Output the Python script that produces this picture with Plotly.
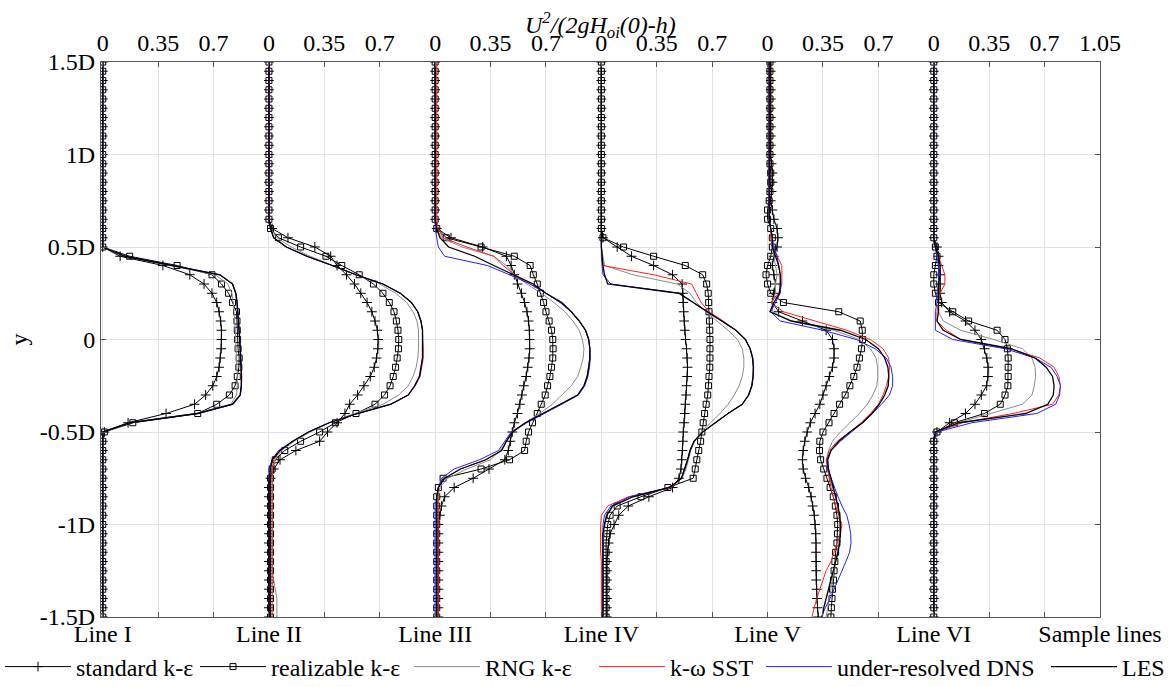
import plotly.graph_objects as go

# ---------------- data ----------------
# sample heights (units of D), shared by every profile
Y = [1.5, 1.45, 1.4, 1.35, 1.3, 1.25, 1.2, 1.15, 1.1, 1.05,
     1.0, 0.95, 0.9, 0.85, 0.8, 0.75, 0.7, 0.65, 0.6, 0.55,
     0.5, 0.45, 0.4, 0.35, 0.3, 0.25, 0.2, 0.15, 0.1, 0.05,
     0.0, -0.05, -0.1, -0.15, -0.2, -0.25, -0.3, -0.35, -0.4, -0.45,
     -0.5, -0.55, -0.6, -0.65, -0.7, -0.75, -0.8, -0.85, -0.9, -0.95,
     -1.0, -1.05, -1.1, -1.15, -1.2, -1.25, -1.3, -1.35, -1.4, -1.45,
     -1.5]

LINES = ["Line I", "Line II", "Line III", "Line IV", "Line V", "Line VI"]
MODELS = ["standard k-ε", "realizable k-ε", "RNG k-ε", "k-ω SST", "under-resolved DNS", "LES"]

# ---- Line I ----
L1_STD = [0, 0, 0, 0, 0, 0, 0, 0, 0, 0,
          0, 0, 0, 0, 0, 0, 0, 0, 0, 0,
          0, 0.11, 0.38, 0.55, 0.64, 0.69, 0.72, 0.735, 0.745, 0.75,
          0.75, 0.748, 0.742, 0.735, 0.72, 0.695, 0.65, 0.58, 0.4, 0.16,
          0.01, 0, 0, 0, 0, 0, 0, 0, 0, 0,
          0, 0, 0, 0, 0, 0, 0, 0, 0, 0,
          0]
L1_REAL = [0, 0, 0, 0, 0, 0, 0, 0, 0, 0,
           0, 0, 0, 0, 0, 0, 0, 0, 0, 0,
           0, 0.17, 0.47, 0.69, 0.75, 0.795, 0.82, 0.845, 0.848, 0.85,
           0.852, 0.855, 0.862, 0.86, 0.85, 0.836, 0.8, 0.72, 0.6, 0.19,
           0.01, 0, 0, 0, 0, 0, 0, 0, 0, 0,
           0, 0, 0, 0, 0, 0, 0, 0, 0, 0,
           0]
L1_RNG = [0, 0, 0, 0, 0, 0, 0, 0, 0, 0,
          0, 0, 0, 0, 0, 0, 0, 0, 0, 0,
          0, 0.14, 0.42, 0.71, 0.79, 0.815, 0.825, 0.83, 0.835, 0.838,
          0.84, 0.843, 0.846, 0.848, 0.85, 0.85, 0.845, 0.81, 0.58, 0.17,
          0, 0, 0, 0, 0, 0, 0, 0, 0, 0,
          0, 0, 0, 0, 0, 0, 0, 0, 0, 0,
          0]
L1_SST = [0, 0, 0, 0, 0, 0, 0, 0, 0, 0,
          0, 0, 0, 0, 0, 0, 0, 0, 0, 0,
          0, 0.14, 0.43, 0.74, 0.82, 0.84, 0.848, 0.853, 0.857, 0.862,
          0.865, 0.868, 0.872, 0.875, 0.876, 0.875, 0.868, 0.82, 0.6, 0.17,
          0, 0, 0, 0, 0, 0, 0, 0, 0, 0,
          0, 0, 0, 0, 0, 0, 0, 0, 0, 0,
          0]
L1_DNS = [0, 0, 0, 0, 0, 0, 0, 0, 0, 0,
          0, 0, 0, 0, 0, 0, 0, 0, 0, 0,
          0, 0.14, 0.43, 0.74, 0.82, 0.842, 0.85, 0.855, 0.86, 0.864,
          0.867, 0.87, 0.874, 0.877, 0.878, 0.877, 0.87, 0.825, 0.6, 0.17,
          0, 0, 0, 0, 0, 0, 0, 0, 0, 0,
          0, 0, 0, 0, 0, 0, 0, 0, 0, 0,
          0]
L1_LES = [0, 0, 0, 0, 0, 0, 0, 0, 0, 0,
          0, 0, 0, 0, 0, 0, 0, 0, 0, 0,
          0, 0.14, 0.43, 0.74, 0.82, 0.84, 0.848, 0.853, 0.857, 0.862,
          0.865, 0.868, 0.872, 0.875, 0.876, 0.875, 0.868, 0.82, 0.6, 0.17,
          0, 0, 0, 0, 0, 0, 0, 0, 0, 0,
          0, 0, 0, 0, 0, 0, 0, 0, 0, 0,
          0]

# ---- Line II ----
L2_STD = [0, 0, 0, 0, 0, 0, 0, 0, 0, 0,
          0, 0, 0, 0, 0, 0, 0, 0, 0.02, 0.12,
          0.29, 0.39, 0.43, 0.49, 0.54, 0.58, 0.62, 0.65, 0.67, 0.685,
          0.69, 0.688, 0.68, 0.665, 0.64, 0.6, 0.56, 0.51, 0.48, 0.43,
          0.37, 0.32, 0.17, 0.07, 0.03, 0.01, 0, 0, 0, 0,
          0, 0, 0, 0, 0, 0, 0, 0, 0, 0,
          0]
L2_REAL = [0, 0, 0, 0, 0, 0, 0, 0, 0, 0,
           0, 0, 0, 0, 0, 0, 0, 0, 0.01, 0.06,
           0.2, 0.36, 0.46, 0.57, 0.66, 0.72, 0.76, 0.79, 0.805, 0.815,
           0.82, 0.818, 0.81, 0.8, 0.785, 0.765, 0.73, 0.67, 0.55, 0.42,
           0.32, 0.2, 0.1, 0.04, 0.02, 0.01, 0.01, 0.01, 0.01, 0.01,
           0.01, 0.01, 0.01, 0.01, 0.01, 0.01, 0.01, 0.01, 0.01, 0.01,
           0.01]
L2_RNG = [0, 0, 0, 0, 0, 0, 0, 0, 0, 0,
          0, 0, 0, 0, 0, 0, 0, 0, 0.01, 0.05,
          0.14, 0.26, 0.4, 0.55, 0.7, 0.8, 0.87, 0.91, 0.935, 0.945,
          0.945, 0.945, 0.94, 0.93, 0.91, 0.88, 0.82, 0.72, 0.54, 0.38,
          0.26, 0.16, 0.08, 0.04, 0.02, 0.02, 0.02, 0.02, 0.02, 0.02,
          0.02, 0.02, 0.02, 0.02, 0.02, 0.02, 0.03, 0.04, 0.05, 0.05,
          0.05]
L2_SST = [0, 0, 0, 0, 0, 0, 0, 0, 0, 0,
          0, 0, 0, 0, 0, 0, 0, 0, 0.01, 0.03,
          0.11, 0.24, 0.4, 0.55, 0.72, 0.83, 0.9, 0.94, 0.96, 0.97,
          0.97, 0.975, 0.975, 0.965, 0.955, 0.925, 0.88, 0.77, 0.56, 0.38,
          0.25, 0.15, 0.07, 0.03, 0.02, 0.02, 0.02, 0.02, 0.02, 0.02,
          0.02, 0.02, 0.02, 0.02, 0.02, 0.02, 0.02, 0.02, 0.02, 0.02,
          0.02]
L2_DNS = [0, 0, 0, 0, 0, 0, 0, 0, 0, 0,
          0, 0, 0, 0, 0, 0, 0, 0, 0.01, 0.03,
          0.11, 0.24, 0.4, 0.55, 0.72, 0.83, 0.9, 0.94, 0.96, 0.97,
          0.972, 0.972, 0.97, 0.962, 0.952, 0.922, 0.88, 0.77, 0.56, 0.38,
          0.25, 0.15, 0.06, 0.02, 0, 0, 0, 0, 0, 0,
          0, 0, 0, 0, 0, 0, 0, 0, 0, 0,
          0]
L2_LES = [0, 0, 0, 0, 0, 0, 0, 0, 0, 0,
          0, 0, 0, 0, 0, 0, 0, 0, 0.01, 0.03,
          0.11, 0.24, 0.4, 0.55, 0.72, 0.83, 0.9, 0.94, 0.96, 0.97,
          0.97, 0.97, 0.97, 0.96, 0.95, 0.92, 0.88, 0.77, 0.56, 0.38,
          0.25, 0.15, 0.07, 0.02, 0.01, 0, 0, 0, 0, 0,
          0, 0, 0, 0, 0, 0, 0, 0, 0, 0,
          0]

# ---- Line III ----
L3_STD = [0, 0, 0, 0, 0, 0, 0, 0, 0, 0,
          0, 0, 0, 0, 0, 0, 0, 0, 0.01, 0.1,
          0.3, 0.45, 0.48, 0.5, 0.52, 0.545, 0.565, 0.58, 0.59, 0.595,
          0.597, 0.597, 0.593, 0.585, 0.575, 0.56, 0.548, 0.535, 0.52, 0.5,
          0.487, 0.475, 0.462, 0.44, 0.34, 0.24, 0.12, 0.06, 0.04, 0.03,
          0.02, 0.02, 0.02, 0.02, 0.02, 0.02, 0.02, 0.02, 0.02, 0.02,
          0.02]
L3_REAL = [0, 0, 0, 0, 0, 0, 0, 0, 0, 0,
           0, 0, 0, 0, 0, 0, 0, 0, 0.01, 0.07,
           0.29, 0.5, 0.6, 0.62, 0.645, 0.665, 0.685, 0.7, 0.72, 0.735,
           0.743, 0.745, 0.743, 0.735, 0.725, 0.71, 0.695, 0.67, 0.645, 0.615,
           0.59, 0.575, 0.565, 0.47, 0.29, 0.05, 0.02, 0.01, 0.01, 0.01,
           0.01, 0.01, 0.01, 0.01, 0.01, 0.01, 0.01, 0.01, 0.01, 0.01,
           0.01]
L3_RNG = [0, 0, 0, 0, 0, 0, 0, 0, 0, 0,
          0, 0, 0, 0, 0, 0, 0, 0, 0.01, 0.04,
          0.17, 0.37, 0.45, 0.5, 0.58, 0.67, 0.75, 0.82, 0.87, 0.91,
          0.93, 0.94, 0.935, 0.92, 0.9, 0.86, 0.8, 0.74, 0.66, 0.57,
          0.49, 0.45, 0.41, 0.35, 0.2, 0.08, 0.03, 0.015, 0.01, 0.01,
          0.01, 0.01, 0.01, 0.01, 0.01, 0.01, 0.01, 0.01, 0.01, 0.01,
          0.01]
L3_SST = [0.01, 0.01, 0.01, 0.01, 0.01, 0.01, 0.01, 0.01, 0.01, 0.01,
          0.01, 0.01, 0.01, 0.01, 0.01, 0.01, 0.01, 0.01, 0.02, 0.05,
          0.2, 0.37, 0.43, 0.5, 0.6, 0.7, 0.79, 0.86, 0.91, 0.95,
          0.97, 0.977, 0.977, 0.97, 0.96, 0.94, 0.9, 0.79, 0.68, 0.57,
          0.48, 0.45, 0.42, 0.32, 0.16, 0.06, 0.02, 0.02, 0.02, 0.02,
          0.02, 0.02, 0.02, 0.02, 0.02, 0.02, 0.02, 0.02, 0.02, 0.02,
          0.02]
L3_DNS = [0, 0, 0, 0, 0, 0, 0, 0, 0, 0,
          0, 0, 0, 0, 0, 0, 0, 0, 0, 0.01,
          0.02, 0.06, 0.33, 0.47, 0.6, 0.7, 0.79, 0.86, 0.91, 0.95,
          0.97, 0.978, 0.98, 0.975, 0.965, 0.945, 0.905, 0.8, 0.69, 0.58,
          0.48, 0.44, 0.4, 0.28, 0.12, 0.04, 0.02, 0.01, 0, 0,
          0, 0, 0, 0, 0, 0, 0, 0, 0, 0,
          0]
L3_LES = [0, 0, 0, 0, 0, 0, 0, 0, 0, 0,
          0, 0, 0, 0, 0, 0, 0, 0, 0.01, 0.03,
          0.085, 0.25, 0.37, 0.49, 0.62, 0.7, 0.8, 0.86, 0.91, 0.95,
          0.97, 0.977, 0.977, 0.97, 0.96, 0.94, 0.9, 0.79, 0.68, 0.57,
          0.49, 0.45, 0.42, 0.32, 0.16, 0.06, 0.02, 0.01, 0.01, 0.01,
          0.01, 0.01, 0.01, 0.01, 0.01, 0.01, 0.01, 0.01, 0.01, 0.01,
          0.01]

# ---- Line IV ----
L4_STD = [0, 0, 0, 0, 0, 0, 0, 0, 0, 0,
          0, 0, 0, 0, 0, 0, 0, 0, 0, 0.01,
          0.1, 0.19, 0.33, 0.45, 0.51, 0.515, 0.517, 0.52, 0.523, 0.527,
          0.532, 0.538, 0.542, 0.544, 0.542, 0.538, 0.535, 0.53, 0.527, 0.522,
          0.517, 0.515, 0.512, 0.508, 0.503, 0.49, 0.45, 0.3, 0.17, 0.11,
          0.08, 0.055, 0.045, 0.04, 0.035, 0.035, 0.035, 0.035, 0.035, 0.035,
          0.035]
L4_REAL = [0, 0, 0, 0, 0, 0, 0, 0, 0, 0,
           0, 0, 0, 0, 0, 0, 0, 0, 0, 0.01,
           0.14, 0.33, 0.53, 0.64, 0.665, 0.675, 0.678, 0.68, 0.683, 0.685,
           0.686, 0.686, 0.686, 0.685, 0.68, 0.677, 0.672, 0.662, 0.652, 0.643,
           0.635, 0.627, 0.615, 0.603, 0.593, 0.58, 0.42, 0.25, 0.1, 0.055,
           0.04, 0.035, 0.03, 0.03, 0.03, 0.03, 0.03, 0.03, 0.03, 0.03,
           0.03]
L4_RNG = [0, 0, 0, 0, 0, 0, 0, 0, 0, 0,
          0, 0, 0, 0, 0, 0, 0, 0, 0, 0,
          0, 0.01, 0.02, 0.2, 0.48, 0.56, 0.6, 0.66, 0.73, 0.8,
          0.86, 0.89, 0.9, 0.9, 0.89, 0.87, 0.84, 0.8, 0.75, 0.69,
          0.63, 0.59, 0.565, 0.55, 0.535, 0.51, 0.43, 0.2, 0.08, 0.03,
          0.02, 0.01, 0.01, 0.01, 0.01, 0.01, 0.01, 0.01, 0.01, 0.01,
          0.01]
L4_SST = [0, 0, 0, 0, 0, 0, 0, 0, 0, 0,
          0, 0, 0, 0, 0, 0, 0, 0, 0, 0,
          0, 0.005, 0.01, 0.33, 0.57, 0.6, 0.63, 0.68, 0.77, 0.85,
          0.91, 0.94, 0.955, 0.96, 0.958, 0.95, 0.93, 0.89, 0.8, 0.72,
          0.64, 0.585, 0.56, 0.545, 0.525, 0.506, 0.44, 0.17, 0.04, 0,
          -0.005, -0.005, -0.005, -0.005, 0, 0, 0, 0, 0, 0,
          0]
L4_DNS = [0, 0, 0, 0, 0, 0, 0, 0, 0, 0,
          0, 0, 0, 0, 0, 0, 0, 0, 0, 0,
          0, 0, 0.005, 0.01, 0.06, 0.49, 0.58, 0.665, 0.76, 0.85,
          0.91, 0.94, 0.957, 0.962, 0.96, 0.952, 0.932, 0.89, 0.8, 0.72,
          0.64, 0.585, 0.56, 0.545, 0.525, 0.506, 0.43, 0.18, 0.06, 0.02,
          0.01, 0.01, 0.01, 0.01, 0.01, 0.01, 0.01, 0.01, 0.01, 0.01,
          0.01]
L4_LES = [0, 0, 0, 0, 0, 0, 0, 0, 0, 0,
          0, 0, 0, 0, 0, 0, 0, 0, 0, 0,
          0, 0.005, 0.01, 0.02, 0.04, 0.49, 0.58, 0.665, 0.76, 0.85,
          0.91, 0.94, 0.955, 0.96, 0.958, 0.95, 0.93, 0.89, 0.8, 0.72,
          0.64, 0.585, 0.56, 0.545, 0.525, 0.506, 0.43, 0.2, 0.07, 0.035,
          0.02, 0.01, 0.01, 0.01, 0.01, 0.01, 0.01, 0.01, 0.01, 0.01,
          0.01]

# ---- Line V ----
L5_STD = [0.02, 0.02, 0.02, 0.02, 0.02, 0.02, 0.02, 0.02, 0.02, 0.02,
          0.02, 0.025, 0.03, 0.03, 0.025, 0.02, 0.03, 0.04, 0.06, 0.065,
          0.06, 0.04, 0.03, 0.04, 0.05, 0.04, 0.03, 0.07, 0.22, 0.37,
          0.41, 0.42, 0.42, 0.41, 0.39, 0.37, 0.35, 0.33, 0.3, 0.27,
          0.25, 0.235, 0.225, 0.22, 0.225, 0.24, 0.26, 0.275, 0.285, 0.295,
          0.3, 0.305, 0.306, 0.306, 0.306, 0.306, 0.307, 0.31, 0.312, 0.315,
          0.32]
L5_REAL = [0.015, 0.015, 0.015, 0.015, 0.015, 0.015, 0.015, 0.015, 0.015, 0.015,
           0.015, 0.015, 0.02, 0.02, 0.015, 0.01, 0.0, 0.0, 0.02, 0.03,
           0.03, 0.02, 0.0, -0.01, 0.0, 0.02, 0.1, 0.45, 0.585, 0.598,
           0.6, 0.593, 0.58, 0.565, 0.545, 0.52, 0.49, 0.455, 0.42, 0.388,
           0.35, 0.33, 0.328, 0.335, 0.355, 0.375, 0.395, 0.415, 0.428, 0.438,
           0.443, 0.442, 0.438, 0.43, 0.425, 0.42, 0.416, 0.41, 0.407, 0.403,
           0.4]
L5_RNG = [0.01, 0.01, 0.01, 0.01, 0.01, 0.01, 0.01, 0.01, 0.01, 0.01,
          0.01, 0.01, 0.01, 0.01, 0.01, 0.01, 0.01, 0.01, 0.02, 0.02,
          0.03, 0.04, 0.05, 0.06, 0.05, 0.05, 0.03, 0.03, 0.15, 0.42,
          0.58, 0.65, 0.685, 0.695, 0.696, 0.69, 0.665, 0.63, 0.58, 0.52,
          0.46, 0.41, 0.385, 0.375, 0.38, 0.39, 0.41, 0.43, 0.44, 0.45,
          0.455, 0.455, 0.45, 0.44, 0.43, 0.42, 0.41, 0.4, 0.39, 0.38,
          0.37]
L5_SST = [0.01, 0.01, 0.01, 0.01, 0.01, 0.01, 0.01, 0.01, 0.01, 0.01,
          0.01, 0.01, 0.01, 0.01, 0.01, 0.01, 0.01, 0.01, 0.02, 0.02,
          0.03, 0.06, 0.09, 0.09, 0.09, 0.07, 0.02, 0.1, 0.3, 0.5,
          0.65, 0.73, 0.765, 0.77, 0.765, 0.75, 0.73, 0.7, 0.65, 0.59,
          0.52, 0.44, 0.39, 0.37, 0.38, 0.39, 0.4, 0.415, 0.43, 0.45,
          0.47, 0.46, 0.44, 0.42, 0.4, 0.37, 0.35, 0.33, 0.31, 0.295,
          0.28]
L5_DNS = [0.01, 0.01, 0.01, 0.01, 0.01, 0.01, 0.01, 0.01, 0.01, 0.01,
          0.01, 0.01, 0.01, 0.01, 0.01, 0.01, 0.01, 0.01, 0.02, 0.03,
          0.04, 0.06, 0.07, 0.08, 0.085, 0.08, 0.05, 0.02, 0.08, 0.35,
          0.56, 0.68, 0.75, 0.78, 0.79, 0.79, 0.77, 0.72, 0.66, 0.6,
          0.53, 0.46, 0.4, 0.375, 0.38, 0.4, 0.42, 0.445, 0.47, 0.5,
          0.515, 0.525, 0.527, 0.518, 0.495, 0.47, 0.448, 0.425, 0.395, 0.365,
          0.34]
L5_LES = [0.01, 0.01, 0.01, 0.01, 0.01, 0.01, 0.01, 0.01, 0.01, 0.01,
          0.01, 0.01, 0.01, 0.01, 0.01, 0.01, 0.01, 0.01, 0.02, 0.03,
          0.03, 0.05, 0.07, 0.08, 0.08, 0.075, 0.04, 0.015, 0.15, 0.46,
          0.62, 0.7, 0.74, 0.76, 0.766, 0.762, 0.74, 0.706, 0.66, 0.6,
          0.52, 0.45, 0.4, 0.38, 0.385, 0.4, 0.415, 0.43, 0.445, 0.455,
          0.46, 0.46, 0.455, 0.445, 0.43, 0.415, 0.4, 0.385, 0.37, 0.355,
          0.345]

# ---- Line VI ----
L6_STD = [0, 0, 0, 0, 0, 0, 0, 0, 0, 0,
          0, 0, 0, 0, 0, 0, 0, 0, 0, 0,
          0.02, 0.03, 0.03, 0.04, 0.04, 0.04, 0.05, 0.1, 0.2, 0.26,
          0.3, 0.32, 0.335, 0.343, 0.342, 0.334, 0.3, 0.26, 0.2, 0.1,
          0.02, 0, 0, 0, 0, 0, 0, 0, 0, 0,
          0, 0, 0, 0, 0, 0, 0, 0, 0, 0,
          0]
L6_REAL = [0, 0, 0, 0, 0, 0, 0, 0, 0, 0,
           0, 0, 0, 0, 0, 0, 0, 0, 0, 0,
           0.01, 0.02, 0.01, 0.0, 0.0, 0.01, 0.03, 0.12, 0.22, 0.4,
           0.45, 0.465, 0.47, 0.47, 0.47, 0.468, 0.45, 0.42, 0.32, 0.13,
           0.02, 0, 0, 0, 0, 0, 0, 0, 0, 0,
           0, 0, 0, 0, 0, 0, 0, 0, 0, 0,
           0]
L6_RNG = [0, 0, 0, 0, 0, 0, 0, 0, 0, 0,
          0, 0, 0, 0, 0, 0, 0, 0, 0, 0,
          0.01, 0.03, 0.04, 0.04, 0.03, 0.03, 0.03, 0.03, 0.06, 0.17,
          0.38, 0.56, 0.62, 0.64, 0.643, 0.635, 0.62, 0.56, 0.36, 0.15,
          0.02, 0, 0, 0, 0, 0, 0, 0, 0, 0,
          0, 0, 0, 0, 0, 0, 0, 0, 0, 0,
          0]
L6_SST = [0, 0, 0, 0, 0, 0, 0, 0, 0, 0,
          0, 0, 0, 0, 0, 0, 0, 0, 0, 0,
          0.01, 0.03, 0.05, 0.07, 0.07, 0.04, 0.03, 0.02, 0.02, 0.08,
          0.17, 0.48, 0.67, 0.76, 0.79, 0.8, 0.79, 0.75, 0.5, 0.18,
          0.02, 0, 0, 0, 0, 0, 0, 0, 0, 0,
          0, 0, 0, 0, 0, 0, 0, 0, 0, 0,
          0]
L6_DNS = [0, 0, 0, 0, 0, 0, 0, 0, 0, 0,
          0, 0, 0, 0, 0, 0, 0, 0, 0, 0,
          0.01, 0.02, 0.03, 0.03, 0.03, 0.02, 0.02, 0.01, 0.01, 0.01,
          0.12, 0.45, 0.64, 0.74, 0.78, 0.8, 0.795, 0.77, 0.65, 0.24,
          0.02, 0, 0, 0, 0, 0, 0, 0, 0, 0,
          0, 0, 0, 0, 0, 0, 0, 0, 0, 0,
          0]
L6_LES = [0, 0, 0, 0, 0, 0, 0, 0, 0, 0,
          0, 0, 0, 0, 0, 0, 0, 0, 0, 0,
          0.01, 0.03, 0.04, 0.04, 0.03, 0.03, 0.03, 0.03, 0.02, 0.06,
          0.17, 0.49, 0.64, 0.71, 0.75, 0.76, 0.755, 0.72, 0.58, 0.16,
          0.01, 0, 0, 0, 0, 0, 0, 0, 0, 0,
          0, 0, 0, 0, 0, 0, 0, 0, 0, 0,
          0]

PROFILES = {
    "standard k-ε": [L1_STD, L2_STD, L3_STD, L4_STD, L5_STD, L6_STD],
    "realizable k-ε": [L1_REAL, L2_REAL, L3_REAL, L4_REAL, L5_REAL, L6_REAL],
    "RNG k-ε": [L1_RNG, L2_RNG, L3_RNG, L4_RNG, L5_RNG, L6_RNG],
    "k-ω SST": [L1_SST, L2_SST, L3_SST, L4_SST, L5_SST, L6_SST],
    "under-resolved DNS": [L1_DNS, L2_DNS, L3_DNS, L4_DNS, L5_DNS, L6_DNS],
    "LES": [L1_LES, L2_LES, L3_LES, L4_LES, L5_LES, L6_LES],
}

PANEL_WIDTH = 1.05          # each sample line occupies 1.05 units of the x axis
PANEL_TICKS = [0, 0.35, 0.7]
Y_TICKS = [-1.5, -1.0, -0.5, 0.0, 0.5, 1.0, 1.5]
Y_TICKTEXT = ["-1.5D", "-1D", "-0.5D", "0", "0.5D", "1D", "1.5D"]

for name, lst in PROFILES.items():
    for p in lst:
        assert len(p) == len(Y), (name, len(p))

# ---------------- style / layout ----------------
FONT = "Liberation Serif"
FS = 24
W, H = 1175, 687
ML, MR, MT, MB = 101, 75, 62, 70
PW, PH = W - ML - MR, H - MT - MB

STYLE = {
    "standard k-ε": dict(mode="lines+markers", line=dict(color="black", width=1),
                         marker=dict(symbol="cross-thin", size=7, color="black",
                                     line=dict(color="black", width=1))),
    "realizable k-ε": dict(mode="lines+markers", line=dict(color="black", width=1),
                           marker=dict(symbol="square-open", size=6, color="black",
                                       line=dict(color="black", width=1))),
    "RNG k-ε": dict(mode="lines", line=dict(color="#8c8c8c", width=1)),
    "k-ω SST": dict(mode="lines", line=dict(color="#ff2020", width=1)),
    "under-resolved DNS": dict(mode="lines", line=dict(color="#2020ff", width=1)),
    "LES": dict(mode="lines", line=dict(color="black", width=1.3)),
}
# legend slot left edges in figure pixels, legend row centre in pixels
LEGEND_PX = [0, 195, 409, 594, 761, 1046]
LEGEND_ROW_PX = 667
LEGEND_IDS = ["legend", "legend2", "legend3", "legend4", "legend5", "legend6"]

fig = go.Figure()
for mi, name in enumerate(MODELS):
    for k, prof in enumerate(PROFILES[name]):
        off = k * PANEL_WIDTH
        fig.add_trace(go.Scatter(
            x=[off + v for v in prof], y=Y, name=name, legendgroup=name,
            legend=LEGEND_IDS[mi], showlegend=(k == 0), **STYLE[name]))

n_panels = len(LINES)
all_ticks = []
top_text = []
for k in range(n_panels):
    for t in PANEL_TICKS:
        all_ticks.append(round(k * PANEL_WIDTH + t, 4))
        top_text.append(f"{t:g}")
all_ticks.append(round(n_panels * PANEL_WIDTH, 4))
top_text.append(f"{PANEL_WIDTH:g}")
line_ticks = [round(k * PANEL_WIDTH, 4) for k in range(n_panels + 1)]
line_text = LINES + ["Sample lines"]
minor_ticks = [v for v in all_ticks if v not in line_ticks]

xrange = [-0.011, n_panels * PANEL_WIDTH]
AX_COL = "#555555"
GRID_COL = "#e2e2e2"
axis_common = dict(showline=True, linecolor=AX_COL, linewidth=1, automargin=False,
                   ticks="inside", ticklen=5, tickcolor=AX_COL,
                   zeroline=False, tickfont=dict(family=FONT, size=FS, color="black"))

legend_layouts = {}
for i, lid in enumerate(LEGEND_IDS):
    legend_layouts[lid] = dict(orientation="h", xref="paper", yref="paper",
                               x=(LEGEND_PX[i] - ML) / PW, y=-(LEGEND_ROW_PX - (MT + PH)) / PH,
                               xanchor="left", yanchor="middle",
                               itemwidth=66, font=dict(family=FONT, size=FS, color="black"),
                               bgcolor="rgba(0,0,0,0)")

fig.update_layout(
    width=W, height=H,
    margin=dict(l=ML, r=MR, t=MT, b=MB, autoexpand=False),
    paper_bgcolor="white", plot_bgcolor="white",
    font=dict(family=FONT, size=FS, color="black"),
    xaxis=dict(range=xrange, tickmode="array", tickvals=line_ticks, ticktext=line_text,
               showgrid=True, gridcolor=GRID_COL, gridwidth=1, ticklabelstandoff=-5,
               minor=dict(tickmode="array", tickvals=minor_ticks, ticks="inside", ticklen=5,
                          tickcolor=AX_COL, showgrid=True, gridcolor=GRID_COL, gridwidth=1),
               **axis_common),
    xaxis2=dict(range=xrange, overlaying="x", side="top", tickmode="array",
                tickvals=all_ticks, ticktext=top_text, showgrid=False, **axis_common),
    yaxis=dict(range=[-1.5, 1.5], tickmode="array", tickvals=Y_TICKS, ticktext=Y_TICKTEXT,
               showgrid=True, gridcolor=GRID_COL, gridwidth=1, mirror="ticks", **axis_common),
    showlegend=True,
    **legend_layouts,
)

# dummy trace to activate top axis
fig.add_trace(go.Scatter(x=[None], y=[None], xaxis="x2", showlegend=False, hoverinfo="skip"))

fig.add_annotation(text="<i>U<sup>2</sup>/(2gH<sub>oi</sub>(0)-h)</i>", xref="paper", yref="paper",
                   x=0.5, y=1 + 37 / PH, xanchor="center", yanchor="middle", showarrow=False,
                   font=dict(family=FONT, size=FS, color="black"))
fig.add_annotation(text="y", xref="paper", yref="paper", x=-83 / PW, y=0.5, textangle=-90,
                   xanchor="center", yanchor="middle", showarrow=False,
                   font=dict(family=FONT, size=FS, color="black"))

fig.write_html("out.html")
